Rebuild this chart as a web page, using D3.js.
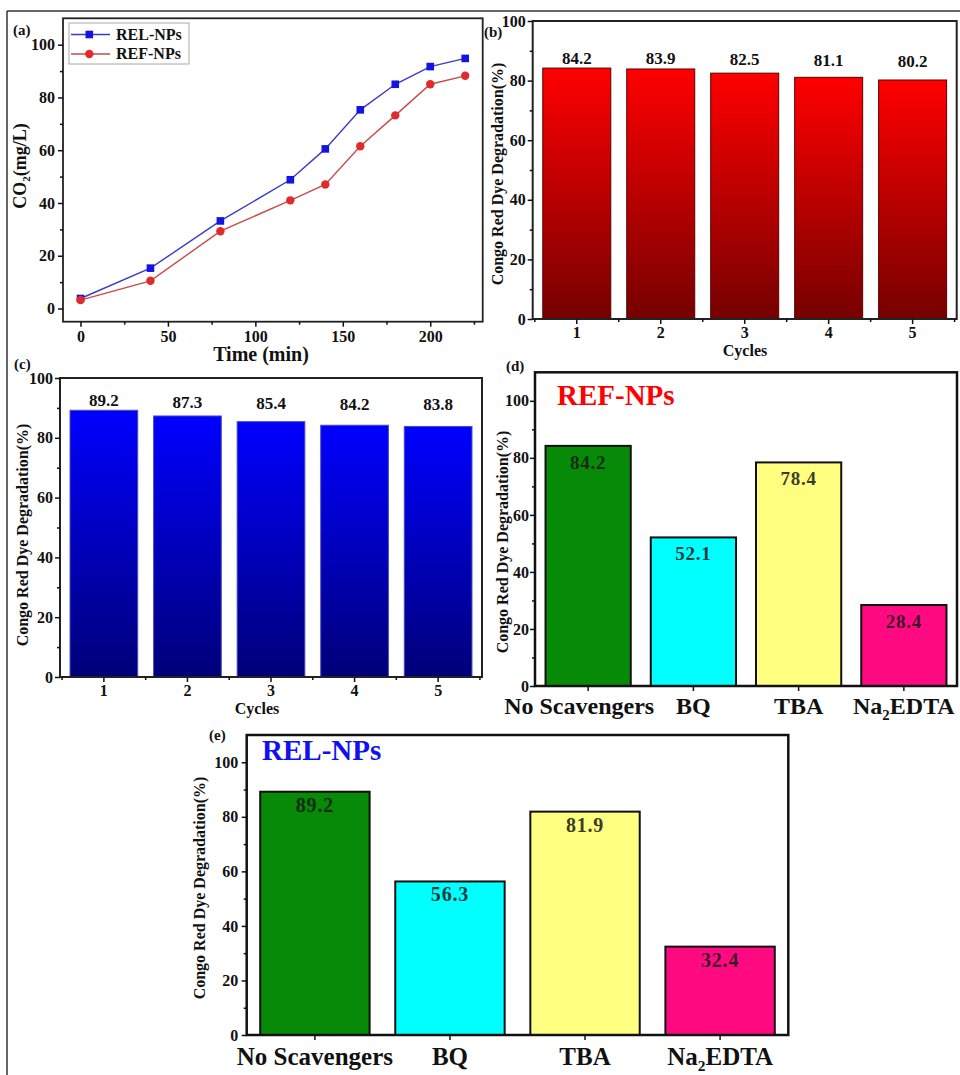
<!DOCTYPE html>
<html><head><meta charset="utf-8">
<script src="https://cdn.jsdelivr.net/npm/d3@7"></script>
<style>
body{margin:0;background:#fff}
svg text{font-family:"Liberation Serif","Times New Roman",serif;font-weight:bold;fill:#111}
</style>
</head><body>
<svg id="c" width="960" height="1075"></svg>
<script>
// ---------------- data ----------------
const timeMin   = [0, 40, 80, 120, 140, 160, 180, 200, 220];
const relCO2    = [3.8, 15.3, 33.2, 48.8, 60.5, 75.3, 85.0, 91.7, 94.8];
const refCO2    = [3.2, 10.5, 29.3, 41.0, 47.0, 61.5, 73.2, 85.0, 88.2];
const seriesNames = ["REL-NPs", "REF-NPs"];
const cycles      = ["1", "2", "3", "4", "5"];
const refCycleDeg = [84.2, 83.9, 82.5, 81.1, 80.2];
const relCycleDeg = [89.2, 87.3, 85.4, 84.2, 83.8];
const scavengers  = ["No Scavengers", "BQ", "TBA", "Na2EDTA"];
const refScavDeg  = [84.2, 52.1, 78.4, 28.4];
const relScavDeg  = [89.2, 56.3, 81.9, 32.4];
const scavColors  = ["#078a07", "#00ffff", "#ffff80", "#ff0a80"];
const yTicksA  = [0, 20, 40, 60, 80, 100];
const yMinorA  = [10, 30, 50, 70, 90];
const xTicksA  = [0, 50, 100, 150, 200];
const xMinorA  = [25, 75, 125, 175, 225];
const yTicksDeg = [0, 20, 40, 60, 80, 100];
const yMinorDeg = [10, 30, 50, 70, 90];
const yLabelDeg = "Congo Red Dye Degradation(%)";

// ---------------- helpers ----------------
const svg = d3.select("#c");
const defs = svg.append("defs");
function grad(id, top, bottom) {
  const g = defs.append("linearGradient").attr("id", id)
    .attr("x1", 0).attr("y1", 0).attr("x2", 0).attr("y2", 1);
  g.append("stop").attr("offset", "0%").attr("stop-color", top);
  g.append("stop").attr("offset", "100%").attr("stop-color", bottom);
}
grad("gRed", "#ff0000", "#760000");
grad("gBlue", "#0000ff", "#000078");

function frame(x0, y0, x1, y1, w, color) {
  svg.append("rect").attr("x", x0).attr("y", y0)
    .attr("width", x1 - x0).attr("height", y1 - y0)
    .attr("fill", "none").attr("stroke", color).attr("stroke-width", w);
}
function styleAxis(g, fs) {
  g.select(".domain").remove();
  g.selectAll(".tick line").attr("stroke", "#111").attr("stroke-width", 1.5);
  g.selectAll("text").attr("font-size", fs).attr("fill", "#111")
    .attr("font-family", null);
}
function txt(x, y, s, fs, opts = {}) {
  const t = svg.append("text").attr("x", x).attr("y", y)
    .attr("font-size", fs).text(s);
  if (opts.anchor) t.attr("text-anchor", opts.anchor);
  if (opts.fill) t.style("fill", opts.fill);
  return t;
}
function rotLabel(x, y, s, fs) {
  return svg.append("text").attr("transform", `translate(${x},${y}) rotate(-90)`)
    .attr("text-anchor", "middle").attr("font-size", fs).text(s);
}

// ---------------- panel (a) ----------------
(function () {
  const L = 63, R = 482.7, T = 18.3, B = 321.7;
  const x = d3.scaleLinear([-10, 230], [L, R]);
  const y = d3.scaleLinear([-5, 110], [B, T]);
  frame(L, T, R, B, 1.8, "#222");
  const ax = svg.append("g").attr("transform", `translate(${L},0)`)
    .call(d3.axisLeft(y).tickValues(yTicksA).tickSize(5).tickPadding(3));
  styleAxis(ax, 16);
  const axm = svg.append("g").attr("transform", `translate(${L},0)`)
    .call(d3.axisLeft(y).tickValues(yMinorA).tickSize(3).tickFormat(""));
  styleAxis(axm, 16);
  const bx = svg.append("g").attr("transform", `translate(0,${B})`)
    .call(d3.axisBottom(x).tickValues(xTicksA).tickSize(5).tickPadding(4));
  styleAxis(bx, 16);
  const bxm = svg.append("g").attr("transform", `translate(0,${B})`)
    .call(d3.axisBottom(x).tickValues(xMinorA).tickSize(3).tickFormat(""));
  styleAxis(bxm, 16);

  const rel = timeMin.map((t, i) => ({ t, v: relCO2[i] }));
  const ref = timeMin.map((t, i) => ({ t, v: refCO2[i] }));
  const line = d3.line().x(d => x(d.t)).y(d => y(d.v));
  svg.append("path").datum(ref).attr("d", line).attr("fill", "none")
    .attr("stroke", "#c94a4a").attr("stroke-width", 1.4);
  svg.append("path").datum(rel).attr("d", line).attr("fill", "none")
    .attr("stroke", "#3b3bc8").attr("stroke-width", 1.4);
  svg.selectAll(".sq").data(rel).join("rect")
    .attr("x", d => x(d.t) - 3.8).attr("y", d => y(d.v) - 3.8)
    .attr("width", 7.6).attr("height", 7.6).attr("fill", "#1414e0");
  svg.selectAll(".ci").data(ref).join("circle")
    .attr("cx", d => x(d.t)).attr("cy", d => y(d.v)).attr("r", 4.2)
    .attr("fill", "#e12a2a");

  // legend
  svg.append("rect").attr("x", 69).attr("y", 23).attr("width", 120).attr("height", 41)
    .attr("fill", "#fff").attr("stroke", "#aaa").attr("stroke-width", 1);
  const lg = [
    { name: seriesNames[0], y: 34.5, c: "#3b3bc8", m: "#1414e0", sq: true },
    { name: seriesNames[1], y: 54, c: "#c94a4a", m: "#e12a2a", sq: false }
  ];
  lg.forEach(d => {
    svg.append("line").attr("x1", 71).attr("x2", 110).attr("y1", d.y).attr("y2", d.y)
      .attr("stroke", d.c).attr("stroke-width", 1.4);
    if (d.sq) svg.append("rect").attr("x", 85.5).attr("y", d.y - 3.8).attr("width", 7.6).attr("height", 7.6).attr("fill", d.m);
    else svg.append("circle").attr("cx", 89.3).attr("cy", d.y).attr("r", 4.2).attr("fill", d.m);
    txt(116, d.y + 5, d.name, 16);
  });

  txt(13, 35, "(a)", 15);
  const yl = svg.append("text").attr("transform", "translate(26,166) rotate(-90)")
    .attr("text-anchor", "middle").attr("font-size", 18);
  yl.append("tspan").text("CO");
  yl.append("tspan").attr("font-size", 11).attr("dy", 4).text("2");
  yl.append("tspan").attr("dy", -4).text("(mg/L)");
  txt(261, 361, "Time (min)", 20, { anchor: "middle" });
})();

// ---------------- cycle bar panels (b), (c) ----------------
function cyclePanel(o) {
  const x = d3.scaleBand(cycles, [o.L, o.R]).paddingInner(0.19).paddingOuter(0.12);
  const y = d3.scaleLinear([0, 100], [o.B, o.T]);
  const data = cycles.map((c, i) => ({ c, v: o.values[i] }));
  svg.append("g").selectAll("rect").data(data).join("rect")
    .attr("x", d => x(d.c)).attr("y", d => y(d.v))
    .attr("width", x.bandwidth()).attr("height", d => y(0) - y(d.v))
    .attr("fill", `url(#${o.grad})`).attr("stroke", o.stroke).attr("stroke-width", 1);
  const vmax = d3.max(o.values);
  svg.append("g").selectAll("text").data(data).join("text")
    .attr("x", d => x(d.c) + x.bandwidth() / 2)
    .attr("y", d => y(vmax) - 4 + (y(d.v) - y(vmax)) * 0.25)
    .attr("text-anchor", "middle").attr("font-size", 17).text(d => d.v.toFixed(1));
  frame(o.L, o.T, o.R, o.B, 2, "#222");
  const ax = svg.append("g").attr("transform", `translate(${o.L},0)`)
    .call(d3.axisLeft(y).tickValues(yTicksDeg).tickSize(5).tickPadding(2));
  styleAxis(ax, 16);
  const axm = svg.append("g").attr("transform", `translate(${o.L},0)`)
    .call(d3.axisLeft(y).tickValues(yMinorDeg).tickSize(3).tickFormat(""));
  styleAxis(axm, 16);
  const bx = svg.append("g").attr("transform", `translate(0,${o.B})`)
    .call(d3.axisBottom(x).tickSize(5).tickPadding(3));
  styleAxis(bx, 16);
  // minor ticks at band boundaries
  const bounds = d3.range(cycles.length + 1).map(i => x(cycles[0]) + x.bandwidth() / 2 + (i - 0.5) * x.step());
  svg.append("g").selectAll("line").data(bounds).join("line")
    .attr("x1", d => d).attr("x2", d => d).attr("y1", o.B).attr("y2", o.B + 3)
    .attr("stroke", "#111").attr("stroke-width", 1.5);
  txt(o.tagX, o.tagY, o.tag, 15);
  rotLabel(o.ylX, o.ylY, yLabelDeg, 16);
  txt(o.xlX, o.xlY, "Cycles", 16, { anchor: "middle" });
}
cyclePanel({ L: 532.7, R: 956.7, T: 21, B: 319, values: refCycleDeg, grad: "gRed", stroke: "#5a0000",
  tag: "(b)", tagX: 484, tagY: 37, ylX: 503, ylY: 174, xlX: 745, xlY: 356 });
cyclePanel({ L: 60, R: 482, T: 378, B: 677, values: relCycleDeg, grad: "gBlue", stroke: "#4a4ac0",
  tag: "(c)", tagX: 14, tagY: 369, ylX: 28, ylY: 535, xlX: 257, xlY: 714 });

// ---------------- scavenger panels (d), (e) ----------------
function scavPanel(o) {
  const x = d3.scaleBand(scavengers, [o.L, o.R]).paddingInner(0.19).paddingOuter(0.1);
  const y = d3.scaleLinear([0, 110], [o.B, o.T]);
  const data = scavengers.map((c, i) => ({ c, v: o.values[i], col: scavColors[i] }));
  svg.append("g").selectAll("rect").data(data).join("rect")
    .attr("x", d => x(d.c)).attr("y", d => y(d.v))
    .attr("width", x.bandwidth()).attr("height", d => y(0) - y(d.v))
    .attr("fill", d => d.col).attr("stroke", "#111").attr("stroke-width", 2);
  svg.append("g").selectAll("text").data(data).join("text")
    .attr("x", d => x(d.c) + x.bandwidth() / 2)
    .attr("y", d => y(d.v) + o.valOff)
    .attr("text-anchor", "middle").attr("font-size", o.valFs)
    .attr("letter-spacing", 0.8)
    .style("fill", "#1a1a1a").style("opacity", 0.85).text(d => d.v.toFixed(1));
  frame(o.L, o.T, o.R, o.B, 2.5, "#111");
  const ax = svg.append("g").attr("transform", `translate(${o.L},0)`)
    .call(d3.axisLeft(y).tickValues(yTicksDeg).tickSize(5).tickPadding(o.yPad));
  styleAxis(ax, 16);
  const axm = svg.append("g").attr("transform", `translate(${o.L},0)`)
    .call(d3.axisLeft(y).tickValues(yMinorDeg).tickSize(3).tickFormat(""));
  styleAxis(axm, 16);
  const bx = svg.append("g").attr("transform", `translate(0,${o.B})`)
    .call(d3.axisBottom(x).tickSize(5).tickPadding(o.xPad));
  styleAxis(bx, o.catFs);
  bx.selectAll(".tick text").each(function (d) {
    const t = d3.select(this);
    if (d === scavengers[0] && o.firstDx) t.attr("dx", o.firstDx);
    if (d === "Na2EDTA") {
      t.text(null);
      t.append("tspan").text("Na");
      t.append("tspan").attr("font-size", o.catFs * 0.62).attr("dy", 6).text("2");
      t.append("tspan").attr("dy", -6).text("EDTA");
    }
  });
  txt(o.tagX, o.tagY, o.tag, 15);
  txt(o.nameX, o.nameY, o.name, 29, { fill: o.nameColor });
  rotLabel(o.ylX, o.ylY, yLabelDeg, 16);
}
scavPanel({ L: 535, R: 957, T: 372.3, B: 686, values: refScavDeg, valOff: 23, valFs: 19,
  yPad: 1, xPad: 6, catFs: 24, firstDx: -9,
  tag: "(d)", tagX: 506, tagY: 371, name: "REF-NPs", nameX: 557, nameY: 405, nameColor: "#ff0000",
  ylX: 508, ylY: 542 });
scavPanel({ L: 246.7, R: 788.3, T: 735, B: 1035, values: relScavDeg, valOff: 20, valFs: 20,
  yPad: 3.5, xPad: 7, catFs: 25, firstDx: 0,
  tag: "(e)", tagX: 209, tagY: 740, name: "REL-NPs", nameX: 262, nameY: 760, nameColor: "#1010f0",
  ylX: 205, ylY: 888 });

// outer figure border
svg.append("line").attr("x1", 7).attr("x2", 7).attr("y1", 11).attr("y2", 1075).attr("stroke", "#333").attr("stroke-width", 1.5);
svg.append("line").attr("x1", 7).attr("x2", 960).attr("y1", 11).attr("y2", 11).attr("stroke", "#333").attr("stroke-width", 1.5);
</script>
</body></html>
